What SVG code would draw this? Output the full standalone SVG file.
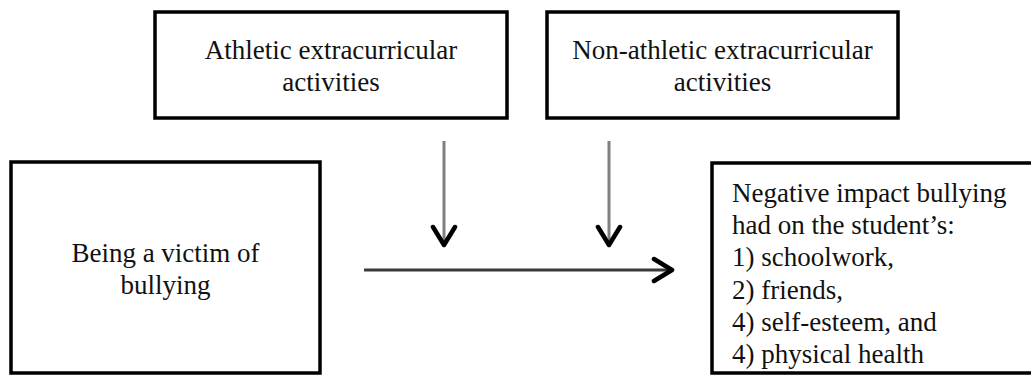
<svg xmlns="http://www.w3.org/2000/svg" width="1031" height="377" viewBox="0 0 1031 377">
<style>
  .box { fill: #ffffff; stroke: #000000; stroke-width: 3.5; }
  .t { font-size: 27px; fill: #111111; }
  .c { text-anchor: middle; }
  .vline { stroke: #808080; stroke-width: 3; fill: none; }
  .hline { stroke: #3a3a3a; stroke-width: 3; fill: none; }
</style>
<defs>
  <marker id="chev" markerUnits="userSpaceOnUse" markerWidth="26" markerHeight="28" viewBox="0 0 26 28" refX="21" refY="14" orient="auto">
    <path d="M3,3 L21,14 L3,25" fill="none" stroke="#000000" stroke-width="4.5" stroke-linejoin="round" stroke-linecap="round"/>
  </marker>
</defs>
<rect width="1031" height="377" fill="#ffffff"/>
<g font-family="Liberation Serif, Tinos, Times New Roman, DejaVu Serif, serif">
<g id="node-athletic">
  <rect class="box" x="155" y="12" width="352" height="106"/>
  <text class="t c" x="331" y="59">Athletic extracurricular</text>
  <text class="t c" x="331" y="91">activities</text>
</g>
<g id="node-nonathletic">
  <rect class="box" x="547" y="12" width="351" height="106"/>
  <text class="t c" x="722.5" y="59">Non-athletic extracurricular</text>
  <text class="t c" x="722.5" y="91">activities</text>
</g>
<g id="node-victim">
  <rect class="box" x="11" y="162" width="309" height="211"/>
  <text class="t c" x="165.5" y="262">Being a victim of</text>
  <text class="t c" x="165.5" y="294">bullying</text>
</g>
<g id="node-impact">
  <rect class="box" x="712" y="163" width="340" height="210"/>
  <text class="t" x="732" y="202">Negative impact bullying</text>
  <text class="t" x="732" y="234">had on the student’s:</text>
  <text class="t" x="732" y="266">1) schoolwork,</text>
  <text class="t" x="732" y="299">2) friends,</text>
  <text class="t" x="732" y="331">4) self-esteem, and</text>
  <text class="t" x="732" y="363">4) physical health</text>
</g>
</g>
<g id="connectors">
  <line class="vline" x1="444" y1="141" x2="444" y2="245" marker-end="url(#chev)"/>
  <line class="vline" x1="609" y1="141" x2="609" y2="245" marker-end="url(#chev)"/>
  <line class="hline" x1="364" y1="270" x2="672" y2="270" marker-end="url(#chev)"/>
</g>
</svg>
